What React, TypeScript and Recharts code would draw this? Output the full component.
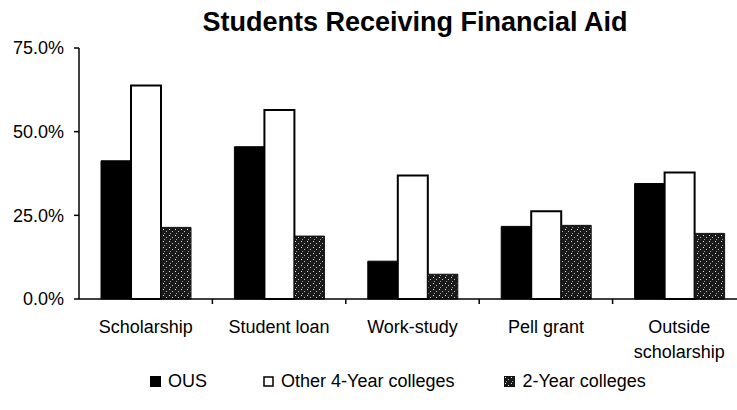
import React from 'react';
import { BarChart, Bar, XAxis, YAxis, Legend } from 'recharts';

const categories = ['Scholarship', 'Student loan', 'Work-study', 'Pell grant', 'Outside scholarship'];
const ous = [41.3, 45.5, 11.3, 21.7, 34.5];
const other4 = [63.8, 56.5, 36.9, 26.2, 37.8];
const twoYear = [21.4, 18.8, 7.4, 22.0, 19.6];
const yTicks = [0, 25, 50, 75];
const seriesNames = ['OUS', 'Other 4-Year colleges', '2-Year colleges'];
const title = 'Students Receiving Financial Aid';

const data = categories.map((c, i) => ({
  category: c,
  ous: ous[i],
  other4: other4[i],
  twoYear: twoYear[i],
}));

const CHART_W = 750;
const CHART_H = 410;
const MARGIN = { top: 48, right: 4, left: 0, bottom: 51 };
const Y_W = 79;
const PLOT_W = CHART_W - MARGIN.right - MARGIN.left - Y_W;
const HALF_BAND = PLOT_W / categories.length / 2;
const FONT = '"Liberation Sans", Arial, Helvetica, sans-serif';

const CategoryTick = (props: any) => {
  const { x, y, payload } = props;
  const label = String(payload.value);
  const lines = label.length > 12 ? label.split(' ') : [label];
  return (
    <g>
      <line x1={x + HALF_BAND} x2={x + HALF_BAND} y1={y} y2={y + 5} stroke="#000" strokeWidth={1.5} />
      <text x={x} y={y + 34} textAnchor="middle" fontSize={18} fill="#000" fontFamily={FONT}>
        {lines.map((l, i) => (
          <tspan key={i} x={x} dy={i === 0 ? 0 : 25}>
            {l}
          </tspan>
        ))}
      </text>
    </g>
  );
};

const swatch = (i: number) => {
  if (i === 0) return <rect x={0.5} y={0.5} width={10} height={10} fill="#000" stroke="#000" />;
  if (i === 1) return <rect x={1} y={1} width={9} height={9} fill="#fff" stroke="#000" strokeWidth={1.5} />;
  return <rect x={0.5} y={0.5} width={10} height={10} fill="url(#stipple)" stroke="#111" />;
};

const CustomLegend = () => (
  <div style={{ display: 'flex', alignItems: 'center', fontFamily: FONT, fontSize: 18, color: '#000' }}>
    {seriesNames.map((n, i) => (
      <div key={n} style={{ display: 'flex', alignItems: 'center', marginRight: i === 0 ? 56 : 50 }}>
        <svg width={12} height={12} style={{ marginRight: 6 }}>
          {swatch(i)}
        </svg>
        <span>{n}</span>
      </div>
    ))}
  </div>
);

export default function App() {
  return (
    <div style={{ position: 'absolute', left: 0, top: 0, width: 737, height: 410, overflow: 'hidden', background: '#fff' }}>
      <svg width={0} height={0} style={{ position: 'absolute' }}>
        <defs>
          <pattern id="stipple" width={6} height={6} patternUnits="userSpaceOnUse">
            <rect width={6} height={6} fill="#1a1a1a" />
            <rect x={1} y={1} width={1} height={1} fill="#e0e0e0" />
            <rect x={4} y={3} width={1} height={1} fill="#bdbdbd" />
            <rect x={2} y={5} width={1} height={1} fill="#9a9a9a" />
          </pattern>
        </defs>
      </svg>
      <div
        style={{
          position: 'absolute',
          left: 0,
          top: 7,
          width: 830,
          textAlign: 'center',
          fontFamily: FONT,
          fontWeight: 'bold',
          fontSize: 27,
          lineHeight: '30px',
          color: '#000',
        }}
      >
        {title}
      </div>
      <BarChart width={CHART_W} height={CHART_H} data={data} margin={MARGIN} barGap={0} barCategoryGap="16.5%">
        <XAxis
          dataKey="category"
          interval={0}
          tickLine={false}
          tickSize={0}
          tickMargin={0}
          height={60}
          axisLine={{ stroke: '#000', strokeWidth: 1.5 }}
          tick={<CategoryTick />}
        />
        <YAxis
          width={Y_W}
          domain={[0, 75]}
          ticks={yTicks}
          interval={0}
          tickSize={5}
          tickMargin={10}
          tickFormatter={(v: number) => `${v.toFixed(1)}%`}
          axisLine={{ stroke: '#000', strokeWidth: 1.5 }}
          tickLine={{ stroke: '#000', strokeWidth: 1.5 }}
          tick={{ fontSize: 18, fill: '#000', fontFamily: FONT }}
        />
        <Legend
          layout="horizontal"
          verticalAlign="middle"
          align="center"
          wrapperStyle={{ top: 371, left: 150, width: 600 }}
          content={() => <CustomLegend />}
        />
        <Bar dataKey="ous" name={seriesNames[0]} fill="#000" stroke="#000" strokeWidth={1} isAnimationActive={false} />
        <Bar dataKey="other4" name={seriesNames[1]} fill="#fff" stroke="#000" strokeWidth={2} isAnimationActive={false} />
        <Bar dataKey="twoYear" name={seriesNames[2]} fill="url(#stipple)" stroke="#111" strokeWidth={1} isAnimationActive={false} />
      </BarChart>
    </div>
  );
}
